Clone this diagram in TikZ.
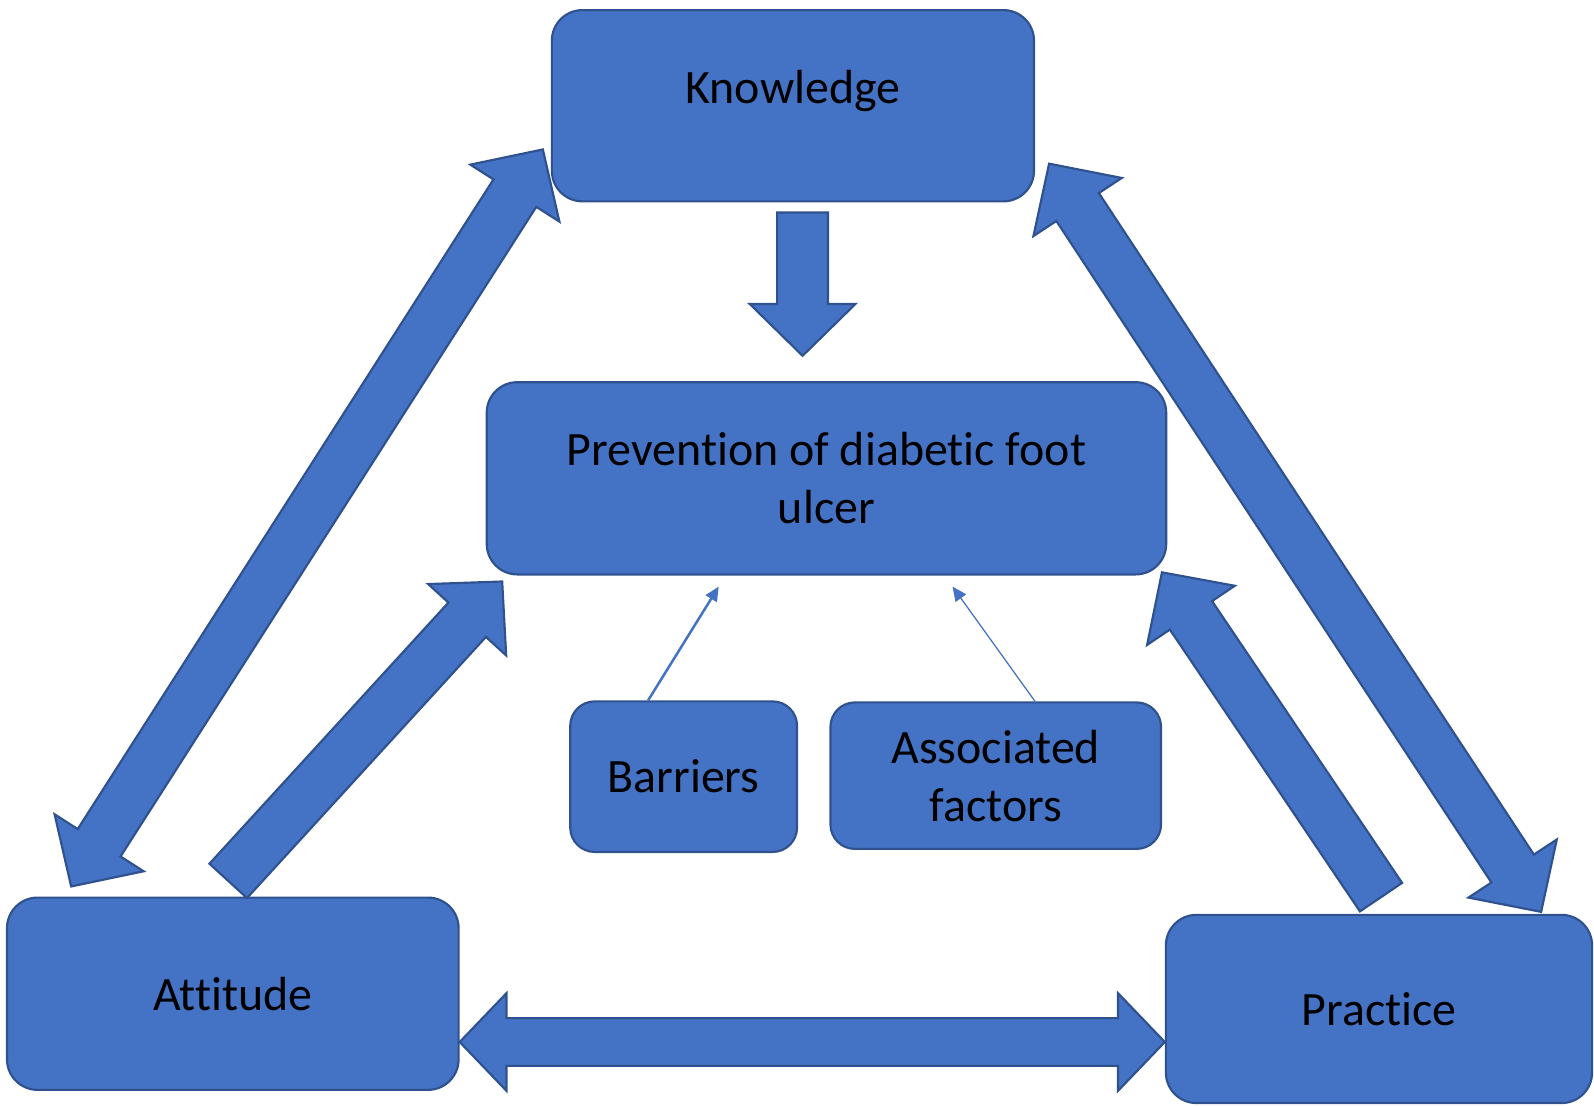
\documentclass[tikz,border=0pt]{standalone}
\usepackage{fontspec}
\setmainfont[Ligatures=NoCommon]{Carlito}
\usetikzlibrary{arrows.meta,calc}

\definecolor{boxblue}{HTML}{4472C4}
\definecolor{edgeblue}{HTML}{2F528F}

% half shaft width, half head width, head length of the block arrows
\newcommand{\shaftw}{0.25cm}
\newcommand{\headw}{0.52cm}
\newcommand{\headl}{0.51cm}

% block arrow from tail #1 to tip #2
\newcommand{\blockarrow}[2]{%
  \draw[blk] ($(#1)!\shaftw!-90:(#2)$)
    -- ($(#2)!\headl!(#1)!\shaftw!90:(#1)$)
    -- ($(#2)!\headl!(#1)!\headw!90:(#1)$)
    -- (#2)
    -- ($(#2)!\headl!(#1)!\headw!-90:(#1)$)
    -- ($(#2)!\headl!(#1)!\shaftw!-90:(#1)$)
    -- ($(#1)!\shaftw!90:(#2)$) -- cycle;}

% block arrow with a head at both tips
\newcommand{\dblarrow}[2]{%
  \draw[blk] (#1)
    -- ($(#1)!\headl!(#2)!\headw!-90:(#2)$)
    -- ($(#1)!\headl!(#2)!\shaftw!-90:(#2)$)
    -- ($(#2)!\headl!(#1)!\shaftw!90:(#1)$)
    -- ($(#2)!\headl!(#1)!\headw!90:(#1)$)
    -- (#2)
    -- ($(#2)!\headl!(#1)!\headw!-90:(#1)$)
    -- ($(#2)!\headl!(#1)!\shaftw!-90:(#1)$)
    -- ($(#1)!\headl!(#2)!\shaftw!90:(#2)$)
    -- ($(#1)!\headl!(#2)!\headw!90:(#2)$)
    -- cycle;}

\begin{document}
\begin{tikzpicture}[
  x=0.01cm, y=-0.01cm,
  font=\fontsize{13.4}{16.2}\selectfont,
  box/.style={draw=edgeblue, fill=boxblue, line width=0.6pt, rounded corners=0.3cm,
    align=center, inner sep=0pt, text=black},
  smallbox/.style={box, rounded corners=0.24cm},
  blk/.style={draw=edgeblue, fill=boxblue, line width=0.6pt, line join=miter},
  thinarr/.style={draw=boxblue, -{Triangle[length=4pt,width=3.6pt]}},
]
\useasboundingbox (0,0) rectangle (1568,1087);

\node[box, minimum width=4.74cm, minimum height=1.88cm, text depth=10.3pt] (know) at (780,104) {Knowledge};
\node[box, minimum width=6.68cm, minimum height=1.89cm] (prev) at (813,470.5) {Prevention of diabetic foot\\ulcer};
\node[smallbox, minimum width=2.23cm, minimum height=1.48cm] (bar) at (672.5,764) {Barriers};
\node[smallbox, minimum width=3.25cm, minimum height=1.44cm] (fac) at (979.5,763) {Associated\\factors};
\node[box, minimum width=4.44cm, minimum height=1.89cm] (att) at (229,977.5) {Attitude};
\node[box, minimum width=4.19cm, minimum height=1.85cm] (prac) at (1356.5,992.5) {Practice};

% tips and tails of the block arrows
\coordinate (kpTail) at (789.5,209);
\coordinate (kpTip) at (789.5,350);
\coordinate (kaTop) at (534,147);
\coordinate (kaBot) at (70,872);
\coordinate (apTail) at (224.5,866.5);
\coordinate (apTip) at (494,572);
\coordinate (ppTail) at (1358.5,882.5);
\coordinate (ppTip) at (1143,563);
\coordinate (krTop) at (1032,161);
\coordinate (krBot) at (1516,897);
\coordinate (barTip) at (707,577);
\coordinate (facTip) at (937,577);

\blockarrow{kpTail}{kpTip}
\dblarrow{kaTop}{kaBot}
\blockarrow{apTail}{apTip}
\blockarrow{ppTail}{ppTip}
\dblarrow{krTop}{krBot}
\renewcommand{\shaftw}{0.235cm}
\renewcommand{\headw}{0.48cm}
\renewcommand{\headl}{0.46cm}
\dblarrow{att.east |- 0,1025}{prac.west |- 0,1025}

\draw[thinarr, line width=0.7pt] ($(bar.north west)!0.345!(bar.north east)$) -- (barTip);
\draw[thinarr, line width=0.35pt] ($(fac.north west)!0.618!(fac.north east)$) -- (facTip);
\end{tikzpicture}
\end{document}
